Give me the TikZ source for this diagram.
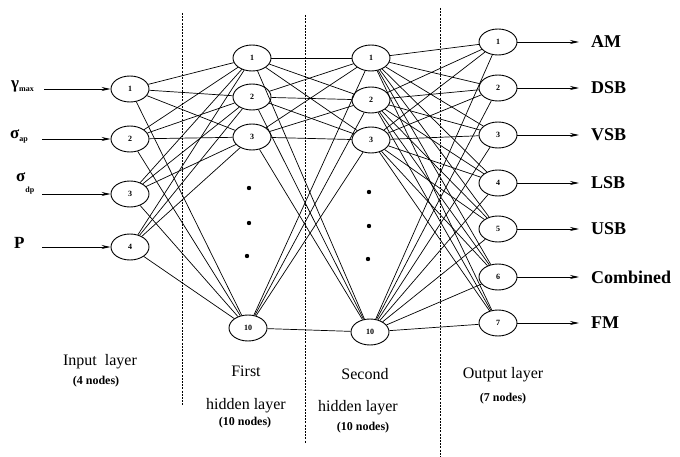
\documentclass[tikz,border=0pt]{standalone}
\usepackage{fontspec}
\setmainfont{Liberation Serif}
\usetikzlibrary{shapes.geometric,arrows.meta}
\tikzset{
  neuron/.style={draw,ellipse,line width=0.9pt,minimum width=38pt,minimum height=26pt,inner sep=0pt,fill=white,font=\bfseries\fontsize{8}{8}\selectfont},
  link/.style={line width=0.7pt},
  feed/.style={-{Stealth[length=9pt,width=4pt]},line width=0.8pt},
  layerline/.style={line width=0.8pt,dash pattern=on 2pt off 1.2pt},
  outlabel/.style={anchor=west,inner sep=0pt,font=\bfseries\fontsize{18}{18}\selectfont},
  inlabel/.style={anchor=west,inner sep=0pt,font=\bfseries\fontsize{17}{17}\selectfont},
  layertext/.style={font=\fontsize{16}{16}\selectfont},
  nodecount/.style={font=\bfseries\fontsize{12}{12}\selectfont}
}
\newcommand{\subtext}[1]{{\bfseries\fontsize{8}{8}\selectfont #1}}
\begin{document}
\begin{tikzpicture}[x=1pt,y=-1pt]
\useasboundingbox (0,0) rectangle (680,457);
% layer separators
\draw [layerline] (182,13) -- (182,406);
\draw [layerline] (305,15) -- (305,443);
\draw [layerline] (440,8) -- (440,457);
% input layer
\node [neuron] (in1) at (130,89) {1};
\node [neuron] (in2) at (130,139) {2};
\node [neuron] (in3) at (130,194) {3};
\node [neuron] (in4) at (130,247) {4};
% first hidden layer
\node [neuron] (ha1) at (252,58) {1};
\node [neuron] (ha2) at (252,97) {2};
\node [neuron] (ha3) at (252,137) {3};
\node [neuron] (ha10) at (248,328) {10};
% second hidden layer
\node [neuron] (hb1) at (371,58) {1};
\node [neuron] (hb2) at (371,100) {2};
\node [neuron] (hb3) at (371,140) {3};
\node [neuron] (hb10) at (370,332) {10};
% output layer
\foreach \k/\y in {1/42,2/88,3/135,4/183,5/229,6/277,7/323}
  \node [neuron] (out\k) at (498,\y) {\k};
% connections
\foreach \i in {1,...,4}
  \foreach \j in {1,2,3,10}
    \draw [link] (in\i) -- (ha\j);
\foreach \i in {1,2,3,10}
  \foreach \j in {1,2,3,10}
    \draw [link] (ha\i) -- (hb\j);
\foreach \i in {1,2,3,10}
  \foreach \j in {1,...,7}
    \draw [link] (hb\i) -- (out\j);
% dots
\fill (249,188) circle (2.2pt);
\fill (249,223) circle (2.2pt);
\fill (247,256) circle (2.2pt);
\fill (369,192) circle (2.2pt);
\fill (369,226) circle (2.2pt);
\fill (368,259) circle (2.2pt);
% inputs
\node [inlabel] (gmax) at (11,86) {γ\raisebox{-3pt}{\subtext{max}}};
\node [inlabel] (sap) at (10,136) {σ\raisebox{-3pt}{\subtext{ap}}};
\node [inlabel] (sdp) at (16,183) {σ\raisebox{-11pt}{\subtext{dp}}};
\node [inlabel] (pin) at (14,243) {P};
\coordinate (x1) at (44,89);
\coordinate (x2) at (42,139);
\coordinate (x3) at (42,194);
\coordinate (x4) at (42,247);
\foreach \i in {1,...,4}
  \draw [feed] (x\i) -- (in\i);
% outputs
\foreach \k/\y/\t in {1/42/AM,2/88/DSB,3/135/VSB,4/183/LSB,5/229/USB,6/277/Combined,7/323/FM}{
  \node [outlabel] (lab\k) at (591,\y) {\t};
  \draw [feed,shorten >=12pt] (out\k) -- (lab\k);
}
% layer names
\node [layertext] (inname) at (100,362) {Input\ \ layer};
\node [nodecount] (incount) at (96,382) {(4 nodes)};
\node [layertext] (haname) at (246,371) {First};
\node [layertext] (hahid) at (246,406) {hidden layer};
\node [nodecount] (hacount) at (245,423) {(10 nodes)};
\node [layertext] (hbname) at (365,374) {Second};
\node [layertext] (hbhid) at (358,408) {hidden layer};
\node [nodecount] (hbcount) at (363,428) {(10 nodes)};
\node [layertext] (outname) at (503,375) {Output layer};
\node [nodecount] (outcount) at (503,399) {(7 nodes)};
\end{tikzpicture}
\end{document}
